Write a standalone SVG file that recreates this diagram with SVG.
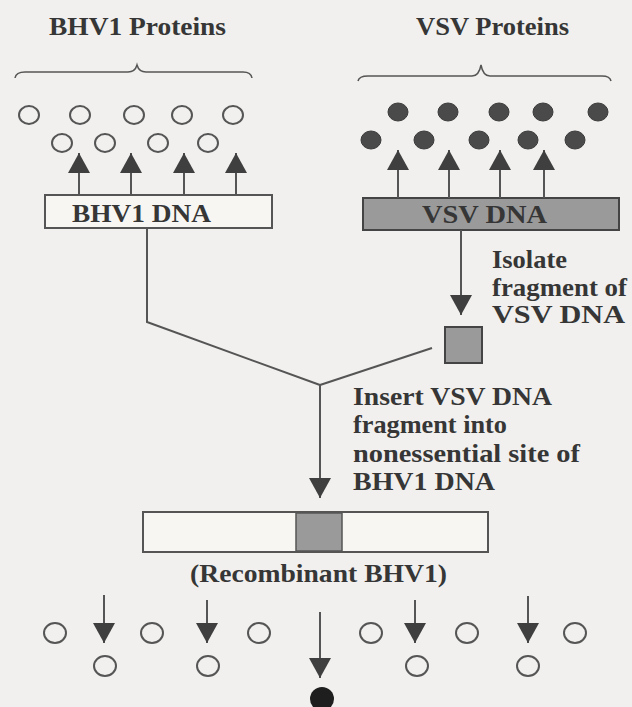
<svg xmlns="http://www.w3.org/2000/svg" width="632" height="707" viewBox="0 0 632 707">
<defs>
<style>
.t{font-family:"Liberation Serif","Times New Roman",serif;font-weight:bold;fill:#363636;font-size:25px}
.ln{stroke:#555;stroke-width:2;fill:none}
.oc{fill:none;stroke:#555;stroke-width:2}
.fc{fill:#4a4a4a;stroke:#3a3a3a;stroke-width:1}
.brace{stroke:#555;stroke-width:1.5;fill:none}
.box{fill:#f7f6f3;stroke:#555;stroke-width:2}
.gbox{fill:#9a9a9a;stroke:#444;stroke-width:2}
</style>
<marker id="ah" viewBox="0 0 10 10" refX="10" refY="5" markerWidth="10" markerHeight="10" markerUnits="userSpaceOnUse" orient="auto" overflow="visible">
<path d="M-10,-6 L10,5 L-10,16 Z" fill="#3f3f3f"/>
</marker>
</defs>
<rect width="632" height="707" fill="#f1f0ee"/>

<g id="bhv1-proteins">
<text class="t" x="49" y="35" textLength="177" lengthAdjust="spacingAndGlyphs">BHV1 Proteins</text>
<path class="brace" d="M15,78 Q16,72 25,72 L128,72 Q135,72 137,65 Q139,72 146,72 L243,72 Q251,72 252,78"/>
<ellipse class="oc" cx="29" cy="115" rx="10" ry="9"/>
<ellipse class="oc" cx="80" cy="115" rx="10" ry="9"/>
<ellipse class="oc" cx="134" cy="115" rx="10" ry="9"/>
<ellipse class="oc" cx="182" cy="115" rx="10" ry="9"/>
<ellipse class="oc" cx="233" cy="115" rx="10" ry="9"/>
<ellipse class="oc" cx="62" cy="143" rx="10" ry="9"/>
<ellipse class="oc" cx="105" cy="143" rx="10" ry="9"/>
<ellipse class="oc" cx="158" cy="143" rx="10" ry="9"/>
<ellipse class="oc" cx="208" cy="143" rx="10" ry="9"/>
</g>

<g id="vsv-proteins">
<text class="t" x="416" y="35" textLength="153" lengthAdjust="spacingAndGlyphs">VSV Proteins</text>
<path class="brace" d="M358,81 Q359,76 368,76 L472,76 Q479,76 481,65 Q483,76 490,76 L602,76 Q610,76 611,81"/>
<ellipse class="fc" cx="398" cy="112" rx="10" ry="9"/>
<ellipse class="fc" cx="448" cy="112" rx="10" ry="9"/>
<ellipse class="fc" cx="499" cy="112" rx="10" ry="9"/>
<ellipse class="fc" cx="543" cy="112" rx="10" ry="9"/>
<ellipse class="fc" cx="598" cy="112" rx="10" ry="9"/>
<ellipse class="fc" cx="371" cy="140" rx="10" ry="9"/>
<ellipse class="fc" cx="424" cy="140" rx="10" ry="9"/>
<ellipse class="fc" cx="479" cy="140" rx="10" ry="9"/>
<ellipse class="fc" cx="528" cy="140" rx="10" ry="9"/>
<ellipse class="fc" cx="575" cy="140" rx="10" ry="9"/>
</g>

<g id="bhv1-dna">
<rect class="box" x="45" y="195" width="227" height="33"/>
<text class="t" x="72" y="222" textLength="139" lengthAdjust="spacingAndGlyphs">BHV1 DNA</text>
</g>

<g id="vsv-dna">
<rect class="gbox" x="363" y="198" width="256" height="32"/>
<text class="t" x="422" y="223" textLength="125" lengthAdjust="spacingAndGlyphs">VSV DNA</text>
</g>

<g id="isolate-label">
<text class="t" x="492" y="268" textLength="75" lengthAdjust="spacingAndGlyphs">Isolate</text>
<text class="t" x="492" y="296" textLength="135" lengthAdjust="spacingAndGlyphs">fragment of</text>
<text class="t" x="492" y="323" textLength="133" lengthAdjust="spacingAndGlyphs">VSV DNA</text>
</g>

<g id="vsv-fragment">
<rect class="gbox" x="445" y="327" width="37" height="36"/>
</g>

<g id="insert-label">
<text class="t" x="353" y="405" textLength="199" lengthAdjust="spacingAndGlyphs">Insert VSV DNA</text>
<text class="t" x="353" y="433" textLength="154" lengthAdjust="spacingAndGlyphs">fragment into</text>
<text class="t" x="353" y="462" textLength="227" lengthAdjust="spacingAndGlyphs">nonessential site of</text>
<text class="t" x="353" y="490" textLength="142" lengthAdjust="spacingAndGlyphs">BHV1 DNA</text>
</g>

<g id="recombinant-bhv1">
<rect class="box" x="143" y="512" width="345" height="40"/>
<rect x="296" y="513" width="46" height="38" fill="#9a9a9a" stroke="#555" stroke-width="1.5"/>
<text class="t" x="190" y="582" textLength="257" lengthAdjust="spacingAndGlyphs">(Recombinant BHV1)</text>
</g>

<g id="recombinant-proteins">
<ellipse class="oc" cx="55" cy="633" rx="11" ry="10"/>
<ellipse class="oc" cx="152" cy="633" rx="11" ry="10"/>
<ellipse class="oc" cx="259" cy="633" rx="11" ry="10"/>
<ellipse class="oc" cx="371" cy="633" rx="11" ry="10"/>
<ellipse class="oc" cx="467" cy="633" rx="11" ry="10"/>
<ellipse class="oc" cx="575" cy="633" rx="11" ry="10"/>
<ellipse class="oc" cx="105" cy="666" rx="11" ry="10"/>
<ellipse class="oc" cx="208" cy="666" rx="11" ry="10"/>
<ellipse class="oc" cx="417" cy="666" rx="11" ry="10"/>
<ellipse class="oc" cx="528" cy="666" rx="11" ry="10"/>
<ellipse cx="322" cy="699" rx="12" ry="12" fill="#1e1e1e"/>
</g>

<g id="connectors">
<line class="ln" x1="79" y1="195" x2="79" y2="153" marker-end="url(#ah)"/>
<line class="ln" x1="131" y1="195" x2="131" y2="153" marker-end="url(#ah)"/>
<line class="ln" x1="184" y1="195" x2="184" y2="153" marker-end="url(#ah)"/>
<line class="ln" x1="236" y1="195" x2="236" y2="153" marker-end="url(#ah)"/>
<line class="ln" x1="398" y1="198" x2="398" y2="150" marker-end="url(#ah)"/>
<line class="ln" x1="449" y1="198" x2="449" y2="150" marker-end="url(#ah)"/>
<line class="ln" x1="500" y1="198" x2="500" y2="150" marker-end="url(#ah)"/>
<line class="ln" x1="544" y1="198" x2="544" y2="150" marker-end="url(#ah)"/>
<line class="ln" x1="461" y1="230" x2="461" y2="315" marker-end="url(#ah)"/>
<polyline class="ln" points="147,228 147,322 320,385"/>
<line class="ln" x1="432" y1="348" x2="320" y2="385"/>
<line class="ln" x1="320" y1="385" x2="320" y2="498" marker-end="url(#ah)"/>
<line class="ln" x1="104" y1="595" x2="104" y2="643" marker-end="url(#ah)"/>
<line class="ln" x1="207" y1="600" x2="207" y2="643" marker-end="url(#ah)"/>
<line class="ln" x1="415" y1="600" x2="415" y2="643" marker-end="url(#ah)"/>
<line class="ln" x1="528" y1="596" x2="528" y2="643" marker-end="url(#ah)"/>
<line class="ln" x1="320" y1="612" x2="320" y2="678" marker-end="url(#ah)"/>
</g>
</svg>
